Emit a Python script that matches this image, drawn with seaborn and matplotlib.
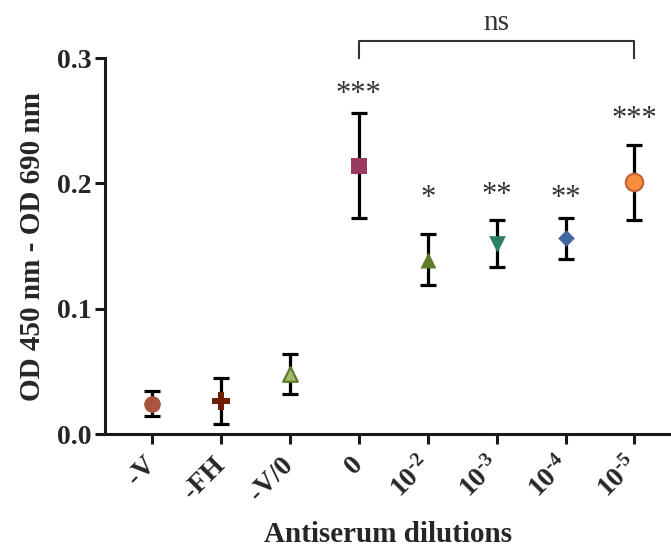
import matplotlib
matplotlib.use("Agg")
import matplotlib.pyplot as plt
import numpy as np
import pandas as pd
import seaborn as sns

# Antiserum dilution groups and measured OD (450 nm - 690 nm), mean +/- error
groups = ["-V", "-FH", "-V/0", "0", "10^-2", "10^-3", "10^-4", "10^-5"]
tick_labels = ["-V", "-FH", "-V/0", "0",
               r"$10^{\text{-}2}$", r"$10^{\text{-}3}$",
               r"$10^{\text{-}4}$", r"$10^{\text{-}5}$"]
od_mean = [0.024, 0.0265, 0.048, 0.214, 0.139, 0.152, 0.156, 0.201]
od_err = [0.010, 0.0185, 0.016, 0.042, 0.0205, 0.0187, 0.0167, 0.030]
signif = ["", "", "", "***", "*", "**", "**", "***"]
signif_y = [0, 0, 0, 0.271, 0.188, 0.190, 0.188, 0.251]

# marker, face colour, edge colour, size (pt)
marker_style = {
    "-V":    ("o", "#A8553F", "#A8553F", 12),
    "-FH":   ("P", "#6E1E05", "#6E1E05", 12.5),
    "-V/0":  ("^", "#A9B96C", "#5E7C2B", 10.5),
    "0":     ("s", "#9B3A60", "#9B3A60", 11.5),
    "10^-2": ("^", "#5E7C26", "#5E7C26", 11.5),
    "10^-3": ("v", "#2A7F66", "#2A7F66", 12),
    "10^-4": ("D", "#3F68A0", "#3F68A0", 8.5),
    "10^-5": ("o", "#F68E3E", "#C4643C", 12.5),
}

df = pd.DataFrame({"group": groups, "od": od_mean, "err": od_err})

sns.set_style("ticks")
plt.rcParams["font.family"] = ["Liberation Serif", "DejaVu Serif"]
plt.rcParams["mathtext.fontset"] = "custom"
plt.rcParams["mathtext.rm"] = "Liberation Serif:bold"
plt.rcParams["mathtext.it"] = "Liberation Serif:bold"
plt.rcParams["mathtext.bf"] = "Liberation Serif:bold"

fig = plt.figure(figsize=(6.71, 5.50), dpi=100)
ax = fig.add_axes([0.1565, 0.2109, 0.8435, 0.6836])

# error bars (drawn first so the categorical order is fixed)
ax.errorbar(df["group"], df["od"], yerr=df["err"], fmt="none",
            ecolor="black", elinewidth=2.3, capsize=5.8, capthick=2.3,
            zorder=2, clip_on=False)

for g, row in df.set_index("group").iterrows():
    m, fc, ec, ms = marker_style[g]
    sns.scatterplot(x=[g], y=[row["od"]], marker=m, s=ms ** 2, color=fc,
                    edgecolor=ec, linewidth=1.6 if ec != fc else 0,
                    ax=ax, zorder=3, clip_on=False, legend=False)

# significance stars above each group
for i, (txt, ys) in enumerate(zip(signif, signif_y)):
    if txt:
        ax.text(i, ys, txt, ha="center", va="center", fontsize=22,
                color="#333333", clip_on=False)

# bracket between "0" and "10^-5"
x0, x1 = groups.index("0"), groups.index("10^-5")
ax.plot([x0, x0, x1, x1], [0.299, 0.3138, 0.3138, 0.299], color="#333333",
        lw=1.5, clip_on=False, solid_capstyle="butt")
ax.text((x0 + x1) / 2, 0.3175, "ns", ha="center", va="bottom", fontsize=21,
        color="#333333", clip_on=False)

ax.set_xlim(-0.68, 7.53)
ax.set_ylim(0, 0.3)
ax.set_yticks([0.0, 0.1, 0.2, 0.3])
ax.set_yticklabels(["0.0", "0.1", "0.2", "0.3"], fontweight="bold")
ax.set_xticks(range(len(groups)))
ax.set_xticklabels(tick_labels, rotation=45, ha="right", va="center",
                   rotation_mode="anchor", fontweight="bold")

ax.tick_params(axis="both", width=2.2, length=7.5, labelsize=20,
               color="#1a1a1a")
ax.tick_params(axis="x", pad=12)
ax.tick_params(axis="y", pad=2)
for side in ["top", "right"]:
    ax.spines[side].set_visible(False)
for side in ["left", "bottom"]:
    ax.spines[side].set_linewidth(2.2)
    ax.spines[side].set_color("#1a1a1a")

ax.set_xlabel("Antiserum dilutions", fontsize=21, fontweight="bold",
              labelpad=11)
ax.set_ylabel("OD 450 nm - OD 690 nm", fontsize=21, fontweight="bold",
              labelpad=8)

fig.savefig("out.png", dpi=100)
